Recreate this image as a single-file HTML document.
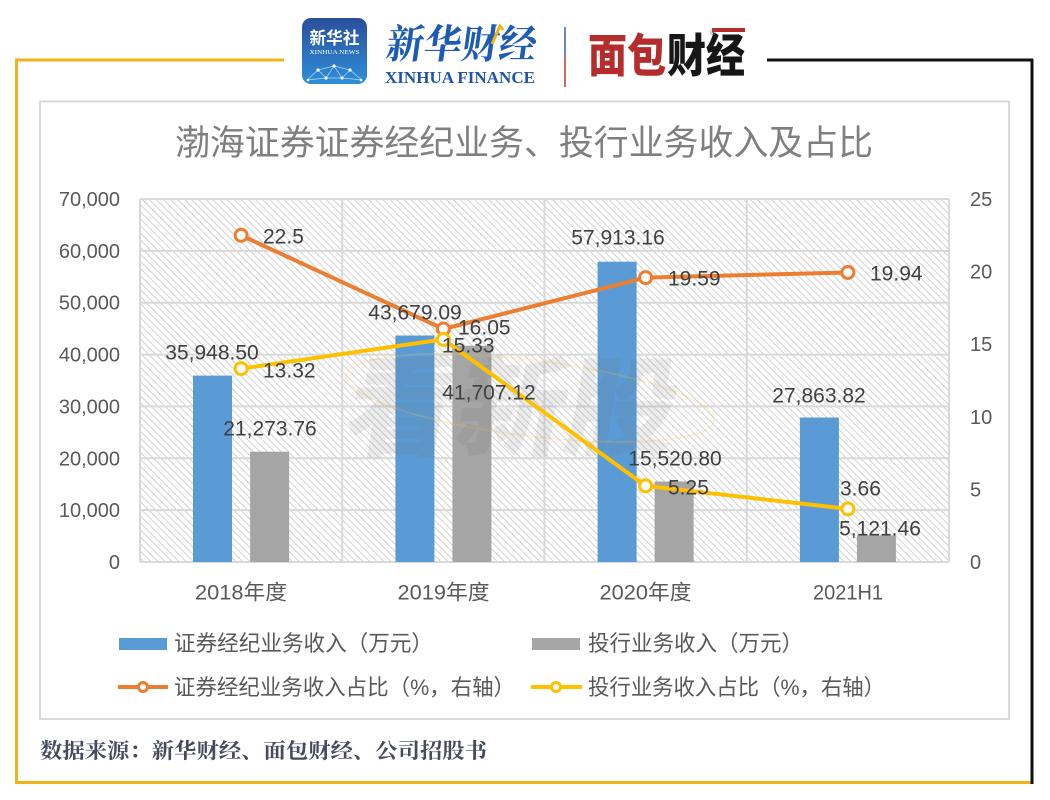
<!DOCTYPE html>
<html>
<head>
<meta charset="utf-8">
<style>
html,body{margin:0;padding:0;background:#fff;}
svg{display:block;}
text{font-family:"Liberation Sans","Noto Sans CJK SC",sans-serif;}
</style>
</head>
<body>
<svg width="1050" height="800" viewBox="0 0 1050 800" xmlns="http://www.w3.org/2000/svg">
<defs>
  <pattern id="hatch" width="5" height="5" patternUnits="userSpaceOnUse" patternTransform="rotate(45)">
    <rect width="5" height="5" fill="#ffffff"/>
    <line x1="0" y1="0.5" x2="5" y2="0.5" stroke="#d2d2d2" stroke-width="1"/>
  </pattern>
  <linearGradient id="icon" x1="0" y1="0" x2="0" y2="1">
    <stop offset="0" stop-color="#2a4f9c"/>
    <stop offset="1" stop-color="#2f8fd9"/>
  </linearGradient>
</defs>

<!-- outer frame -->
<line x1="15" y1="60" x2="284" y2="60" stroke="#f0b41a" stroke-width="3"/>
<line x1="16.5" y1="59" x2="16.5" y2="784" stroke="#f0b41a" stroke-width="3"/>
<line x1="15" y1="782.5" x2="1033" y2="782.5" stroke="#f0b41a" stroke-width="3"/>
<line x1="767" y1="60" x2="1033" y2="60" stroke="#111" stroke-width="3"/>
<line x1="1032" y1="59" x2="1032" y2="784" stroke="#111" stroke-width="3"/>

<!-- header logos -->
<rect x="302" y="18" width="65" height="66" rx="9" fill="url(#icon)"/>
<text x="334.5" y="44" font-size="17" fill="#fff" text-anchor="middle" textLength="50" lengthAdjust="spacingAndGlyphs" style="font-family:'Noto Sans CJK SC',sans-serif;font-weight:bold;">新华社</text>
<text x="334.5" y="54" font-size="6.5" fill="#fff" text-anchor="middle" textLength="50" lengthAdjust="spacingAndGlyphs" style="font-family:'Liberation Serif',serif;">XINHUA NEWS</text>
<g stroke="#bfe0ff" stroke-width="0.7" fill="none" opacity="0.9">
  <path d="M307 80 L318 70 L334 66 L350 70 L362 80 M318 70 L326 78 L334 66 L342 78 L350 70 M326 78 L342 78 M307 80 L326 78 M342 78 L362 80"/>
</g>
<g fill="#fff">
  <circle cx="318" cy="70" r="1.6"/><circle cx="334" cy="66" r="1.6"/><circle cx="350" cy="70" r="1.6"/>
  <circle cx="326" cy="78" r="1.6"/><circle cx="342" cy="78" r="1.6"/><circle cx="308" cy="80" r="1.3"/><circle cx="361" cy="80" r="1.3"/>
</g>
<text x="385" y="58" font-size="40" fill="#1d5cb5" textLength="150" lengthAdjust="spacingAndGlyphs" transform="skewX(-8) translate(8 0)" style="font-family:'Noto Serif CJK SC',serif;font-weight:bold;">新华财经</text>
<path d="M492 44 L500 26 L503 30" stroke="#f2b21b" stroke-width="3" fill="none"/>
<text x="385" y="83" font-size="17" fill="#1f55a8" textLength="150" lengthAdjust="spacingAndGlyphs" style="font-family:'Liberation Serif',serif;font-weight:bold;">XINHUA FINANCE</text>
<line x1="565" y1="27" x2="565" y2="57" stroke="#3a62ad" stroke-width="1.5"/>
<line x1="565" y1="57" x2="565" y2="87" stroke="#c0392b" stroke-width="1.5"/>
<text x="588" y="72" font-size="46" fill="#b52c2c" textLength="78" lengthAdjust="spacingAndGlyphs" style="font-family:'Noto Sans CJK SC',sans-serif;font-weight:900;">面包</text>
<text x="667" y="72" font-size="46" fill="#161616" textLength="78" lengthAdjust="spacingAndGlyphs" style="font-family:'Noto Sans CJK SC',sans-serif;font-weight:900;">财经</text>
<rect x="712" y="28" width="33" height="4" fill="#b52c2c"/>
<text x="710" y="35" font-size="8" fill="#666">®</text>

<!-- inner chart box -->
<rect x="40" y="101.5" width="969" height="617.5" fill="#fff" stroke="#d9d9d9" stroke-width="2"/>

<!-- title -->
<text x="175" y="155" font-size="35" fill="#7f7f7f" textLength="698" lengthAdjust="spacingAndGlyphs">渤海证券证券经纪业务、投行业务收入及占比</text>

<!-- plot area -->
<rect x="140" y="199" width="809" height="363" fill="url(#hatch)"/>
<g stroke="#d9d9d9" stroke-width="2">
  <line x1="140" y1="199" x2="949" y2="199"/>
  <line x1="140" y1="250.9" x2="949" y2="250.9"/>
  <line x1="140" y1="302.7" x2="949" y2="302.7"/>
  <line x1="140" y1="354.6" x2="949" y2="354.6"/>
  <line x1="140" y1="406.4" x2="949" y2="406.4"/>
  <line x1="140" y1="458.3" x2="949" y2="458.3"/>
  <line x1="140" y1="510.1" x2="949" y2="510.1"/>
  <line x1="140" y1="562" x2="949" y2="562"/>
  <line x1="140" y1="199" x2="140" y2="562"/>
  <line x1="342.25" y1="199" x2="342.25" y2="562"/>
  <line x1="544.5" y1="199" x2="544.5" y2="562"/>
  <line x1="746.75" y1="199" x2="746.75" y2="562"/>
  <line x1="949" y1="199" x2="949" y2="562"/>
</g>

<!-- bars -->
<g fill="#5b9bd5">
  <rect x="193" y="375.6" width="39" height="186.4"/>
  <rect x="395.4" y="335.5" width="39" height="226.5"/>
  <rect x="597.6" y="261.7" width="39" height="300.3"/>
  <rect x="799.9" y="417.5" width="39" height="144.5"/>
</g>
<g fill="#a5a5a5">
  <rect x="250.1" y="451.7" width="39" height="110.3"/>
  <rect x="452.4" y="345.7" width="39" height="216.3"/>
  <rect x="654.6" y="481.5" width="39" height="80.5"/>
  <rect x="856.9" y="535.4" width="39" height="26.6"/>
</g>

<!-- watermark -->
<ellipse cx="530" cy="398" rx="185" ry="38" transform="rotate(7 530 398)" fill="none" stroke="rgba(240,200,90,0.22)" stroke-width="2"/>
<text x="345" y="447" font-size="108" fill="rgba(110,110,110,0.13)" transform="skewX(-10) translate(75 0)" textLength="330" lengthAdjust="spacingAndGlyphs" style="font-family:'Noto Sans CJK SC',sans-serif;font-weight:900;">看新股</text>

<!-- lines -->
<polyline points="241.1,235.3 443.4,329 645.6,277.6 847.9,272.5" fill="none" stroke="#ed7d31" stroke-width="4" stroke-linejoin="round"/>
<polyline points="241.1,368.6 443.4,339.4 645.6,485.8 847.9,508.9" fill="none" stroke="#ffc000" stroke-width="4" stroke-linejoin="round"/>
<g fill="#fff" stroke="#ed7d31" stroke-width="3">
  <circle cx="241.1" cy="235.3" r="6"/>
  <circle cx="443.4" cy="329" r="6"/>
  <circle cx="645.6" cy="277.6" r="6"/>
  <circle cx="847.9" cy="272.5" r="6"/>
</g>
<g fill="#fff" stroke="#ffc000" stroke-width="3">
  <circle cx="241.1" cy="368.6" r="6"/>
  <circle cx="443.4" cy="339.4" r="6"/>
  <circle cx="645.6" cy="485.8" r="6"/>
  <circle cx="847.9" cy="508.9" r="6"/>
</g>

<!-- data labels -->
<g font-size="21" fill="#404040">
  <text x="263" y="243.5">22.5</text>
  <text x="212" y="359.5" text-anchor="middle">35,948.50</text>
  <text x="263" y="377.5">13.32</text>
  <text x="270" y="435.5" text-anchor="middle">21,273.76</text>
  <text x="415" y="319.5" text-anchor="middle">43,679.09</text>
  <text x="458" y="334.5">16.05</text>
  <text x="442" y="352.5">15.33</text>
  <text x="489" y="399.5" text-anchor="middle">41,707.12</text>
  <text x="618" y="244.5" text-anchor="middle">57,913.16</text>
  <text x="668" y="285.5">19.59</text>
  <text x="870" y="280.5">19.94</text>
  <text x="819" y="402.5" text-anchor="middle">27,863.82</text>
  <text x="675" y="465.5" text-anchor="middle">15,520.80</text>
  <text x="668" y="494.5">5.25</text>
  <text x="840" y="495.5">3.66</text>
  <text x="880" y="535.5" text-anchor="middle">5,121.46</text>
</g>

<!-- left axis -->
<g font-size="20" fill="#595959" text-anchor="end">
  <text x="120" y="569">0</text>
  <text x="120" y="517.1">10,000</text>
  <text x="120" y="465.3">20,000</text>
  <text x="120" y="413.4">30,000</text>
  <text x="120" y="361.6">40,000</text>
  <text x="120" y="309.7">50,000</text>
  <text x="120" y="257.9">60,000</text>
  <text x="120" y="206">70,000</text>
</g>
<!-- right axis -->
<g font-size="20" fill="#595959">
  <text x="970" y="569">0</text>
  <text x="970" y="496.4">5</text>
  <text x="970" y="423.8">10</text>
  <text x="970" y="351.2">15</text>
  <text x="970" y="278.6">20</text>
  <text x="970" y="206">25</text>
</g>
<!-- category labels -->
<g font-size="21" fill="#595959" text-anchor="middle">
  <text x="241" y="599.5" textLength="92" lengthAdjust="spacingAndGlyphs">2018年度</text>
  <text x="443.5" y="599.5" textLength="92" lengthAdjust="spacingAndGlyphs">2019年度</text>
  <text x="645.5" y="599.5" textLength="92" lengthAdjust="spacingAndGlyphs">2020年度</text>
  <text x="848" y="599.5" textLength="70" lengthAdjust="spacingAndGlyphs">2021H1</text>
</g>

<!-- legend -->
<rect x="119" y="638" width="48" height="12" fill="#5b9bd5"/>
<text x="174" y="651" font-size="22" fill="#595959" textLength="259" lengthAdjust="spacingAndGlyphs">证券经纪业务收入（万元）</text>
<rect x="532" y="638" width="48" height="12" fill="#a5a5a5"/>
<text x="588" y="651" font-size="22" fill="#595959" textLength="215" lengthAdjust="spacingAndGlyphs">投行业务收入（万元）</text>
<line x1="118" y1="687" x2="168" y2="687" stroke="#ed7d31" stroke-width="4"/>
<circle cx="143" cy="687" r="4.5" fill="#fff" stroke="#ed7d31" stroke-width="3"/>
<text x="174" y="695" font-size="22" fill="#595959" textLength="341" lengthAdjust="spacingAndGlyphs">证券经纪业务收入占比（%，右轴）</text>
<line x1="531" y1="687" x2="582" y2="687" stroke="#ffc000" stroke-width="4"/>
<circle cx="556" cy="687" r="4.5" fill="#fff" stroke="#ffc000" stroke-width="3"/>
<text x="588" y="695" font-size="22" fill="#595959" textLength="297" lengthAdjust="spacingAndGlyphs">投行业务收入占比（%，右轴）</text>

<!-- footer -->
<text x="40" y="758" font-size="21" fill="#454b5c" textLength="447" lengthAdjust="spacingAndGlyphs" style="font-family:'Noto Serif CJK SC',serif;font-weight:bold;">数据来源：新华财经、面包财经、公司招股书</text>
</svg>
</body>
</html>
